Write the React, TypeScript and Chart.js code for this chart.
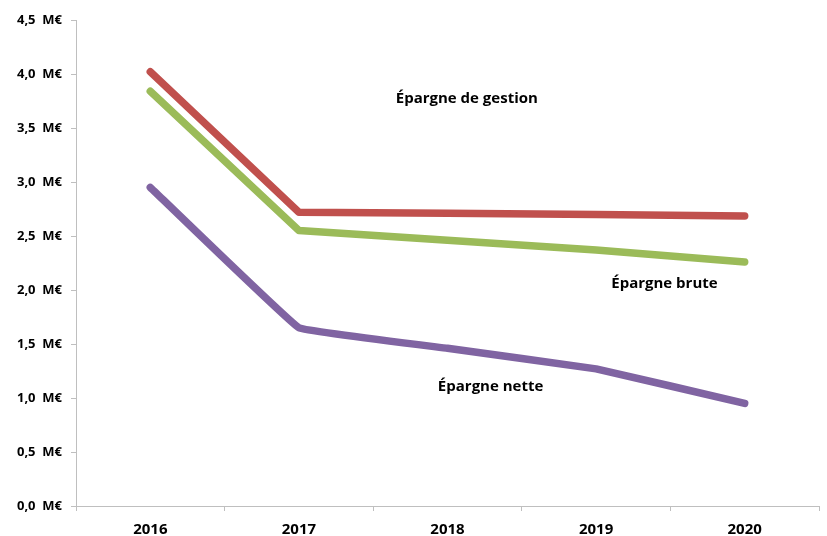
import React, { useEffect, useRef } from "react";
import { Chart, registerables } from "chart.js";

Chart.register(...registerables);

const categories = ["2016", "2017", "2018", "2019", "2020"];
const epargneGestion = [4.02, 2.72, 2.71, 2.70, 2.685];
const epargneBrute = [3.84, 2.55, 2.46, 2.37, 2.26];
const epargneNette = [2.95, 1.65, 1.46, 1.27, 0.95];
const yTicks = [0, 0.5, 1, 1.5, 2, 2.5, 3, 3.5, 4, 4.5];

const seriesLabels = ["Épargne de gestion", "Épargne brute", "Épargne nette"];
// label anchors in data space: [category index, value]
const labelX = [2.13, 3.46, 2.29];
const labelY = [3.77, 2.06, 1.1];

const FONT = "'Open Sans', 'Liberation Sans', sans-serif";

export default function App() {
  const ref = useRef<HTMLCanvasElement | null>(null);
  useEffect(() => {
    if (!ref.current) return;
    const labelPlugin = {
      id: "seriesLabels",
      afterDatasetsDraw(chart: any) {
        const { ctx, scales } = chart;
        ctx.save();
        ctx.font = `bold 15px ${FONT}`;
        ctx.fillStyle = "#000";
        ctx.textAlign = "center";
        ctx.textBaseline = "middle";
        seriesLabels.forEach((t, i) => {
          const x = scales.x.getPixelForValue(labelX[i]);
          const y = scales.y.getPixelForValue(labelY[i]);
          ctx.fillText(t, x, y);
        });
        ctx.restore();
      },
    };
    const chart = new Chart(ref.current, {
      type: "line",
      data: {
        labels: categories,
        datasets: [
          { label: seriesLabels[0], data: epargneGestion, borderColor: "#C0504D", tension: 0 },
          { label: seriesLabels[1], data: epargneBrute, borderColor: "#9BBB59", tension: 0 },
          { label: seriesLabels[2], data: epargneNette, borderColor: "#8064A2", tension: 0.05 },
        ].map((d) => ({
          ...d,
          borderWidth: 7.5,
          pointRadius: 0,
          borderCapStyle: "round" as const,
          borderJoinStyle: "round" as const,
          fill: false,
        })),
      },
      options: {
        animation: false,
        responsive: false,
        layout: { padding: { top: 20, right: 8, left: 0, bottom: 0 } },
        plugins: { legend: { display: false }, tooltip: { enabled: false } },
        scales: {
          x: {
            offset: true,
            grid: {
              offset: true,
              drawOnChartArea: false,
              drawTicks: true,
              tickLength: 5,
              color: "#BFBFBF",
            },
            border: { color: "#BFBFBF", width: 1 },
            ticks: {
              color: "#000",
              font: { family: FONT, weight: "bold", size: 15 },
              padding: 10,
            },
            afterFit(scale: any) {
              scale.height = 30;
            },
          },
          y: {
            min: 0,
            max: 4.5,
            afterBuildTicks(scale: any) {
              scale.ticks = yTicks.map((v) => ({ value: v }));
            },
            grid: {
              drawOnChartArea: false,
              drawTicks: true,
              tickLength: 5,
              color: "#BFBFBF",
            },
            border: { color: "#BFBFBF", width: 1 },
            ticks: {
              color: "#000",
              font: { family: FONT, weight: "bold", size: 13 },
              padding: 9,
              callback: (v: any) => Number(v).toFixed(1).replace(".", ",") + "  M€",
            },
            afterFit(scale: any) {
              scale.width = 76;
            },
          },
        },
      },
      plugins: [labelPlugin],
    });
    return () => chart.destroy();
  }, []);
  return (
    <div style={{ position: "absolute", left: 0, top: 0, width: 827, height: 536, background: "#fff" }}>
      <canvas ref={ref} width={827} height={536} />
    </div>
  );
}
